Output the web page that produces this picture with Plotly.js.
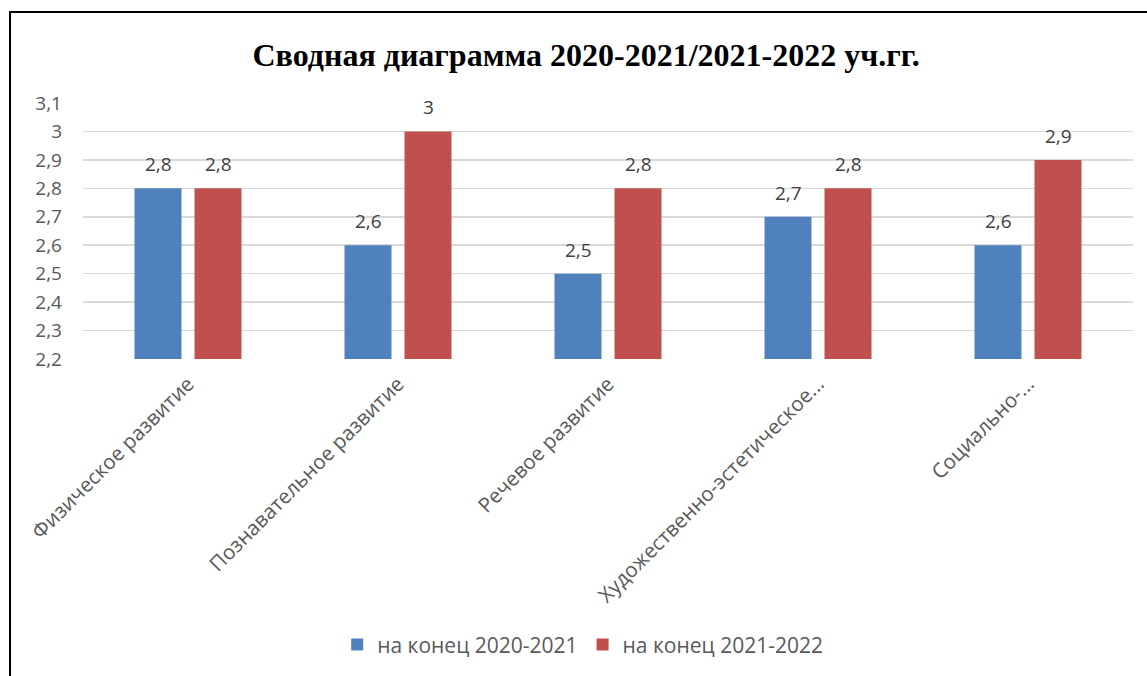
<!DOCTYPE html>
<html>
<head>
<meta charset="utf-8">
<script src="https://cdn.plot.ly/plotly-3.0.1.min.js"></script>
<style>
html,body{margin:0;padding:0;background:#fff;overflow:hidden;}
#frame{position:absolute;left:9px;top:11px;width:1200px;height:720px;border-left:2px solid #000;border-top:2px solid #000;}
#chart{position:absolute;left:0;top:0;width:1147px;height:676px;}
</style>
</head>
<body>
<div id="frame"></div>
<div id="chart"></div>
<script>
const categories = ["Физическое развитие","Познавательное развитие","Речевое развитие","Художественно-эстетическое...","Социально-..."];
const series1Name = "на конец 2020-2021";
const series2Name = "на конец 2021-2022";
const series1 = [2.8, 2.6, 2.5, 2.7, 2.6];
const series2 = [2.8, 3.0, 2.8, 2.8, 2.9];
const yTicks = [2.2,2.3,2.4,2.5,2.6,2.7,2.8,2.9,3.0,3.1];

const fontFam = "'Open Sans', 'Noto Sans', sans-serif";
const fmt = v => (Math.round(v*10)/10).toString().replace('.', ',');

const traces = [
  {type:'bar', name:series1Name, x:categories, y:series1, marker:{color:'#4f81bd'}, hoverinfo:'y'},
  {type:'bar', name:series2Name, x:categories, y:series2, marker:{color:'#c0504d'}, hoverinfo:'y'}
];

const annotations = [];
categories.forEach((c,i)=>{
  annotations.push({x:c, y:series1[i], xref:'x', yref:'y', text:fmt(series1[i]), showarrow:false, xshift:-30, yshift:9, yanchor:'bottom', font:{family:fontFam, size:19, color:'#404040'}});
  annotations.push({x:c, y:series2[i], xref:'x', yref:'y', text:fmt(series2[i]), showarrow:false, xshift:30, yshift:9, yanchor:'bottom', font:{family:fontFam, size:19, color:'#404040'}});
});

const layout = {
  width:1147, height:676,
  margin:{l:83, r:14, t:103, b:317},
  paper_bgcolor:'rgba(0,0,0,0)', plot_bgcolor:'rgba(0,0,0,0)',
  separators:', ',
  barmode:'group', bargap:0.4286, bargroupgap:0.217,
  title:{text:'<b>Сводная диаграмма 2020-2021/2021-2022 уч.гг.</b>', font:{family:"'Liberation Serif','Times New Roman',serif", size:32, color:'#000'}, x:0.511, xref:'container', xanchor:'center', y:0.919, yref:'container', yanchor:'middle'},
  xaxis:{tickangle:-45, tickfont:{family:fontFam, size:20.5, color:'#595959'}, showgrid:false, showline:false, ticks:'', ticklabelstandoff:8, automargin:false},
  yaxis:{range:[2.2,3.1], tickvals:yTicks, ticktext:yTicks.map(fmt), tickfont:{family:fontFam, size:19, color:'#595959'}, showgrid:true, gridcolor:'#d9d9d9', gridwidth:1.5, zeroline:false, showline:false, ticks:'', ticklabelstandoff:20, automargin:false},
  legend:{orientation:'h', x:0.508, xref:'container', xanchor:'center', y:0.046, yref:'container', yanchor:'middle', font:{family:fontFam, size:21, color:'#595959'}, itemwidth:30, traceorder:'normal'},
  annotations:annotations,
  showlegend:true
};

Plotly.newPlot('chart', traces, layout, {displayModeBar:false, staticPlot:true});
</script>
</body>
</html>
